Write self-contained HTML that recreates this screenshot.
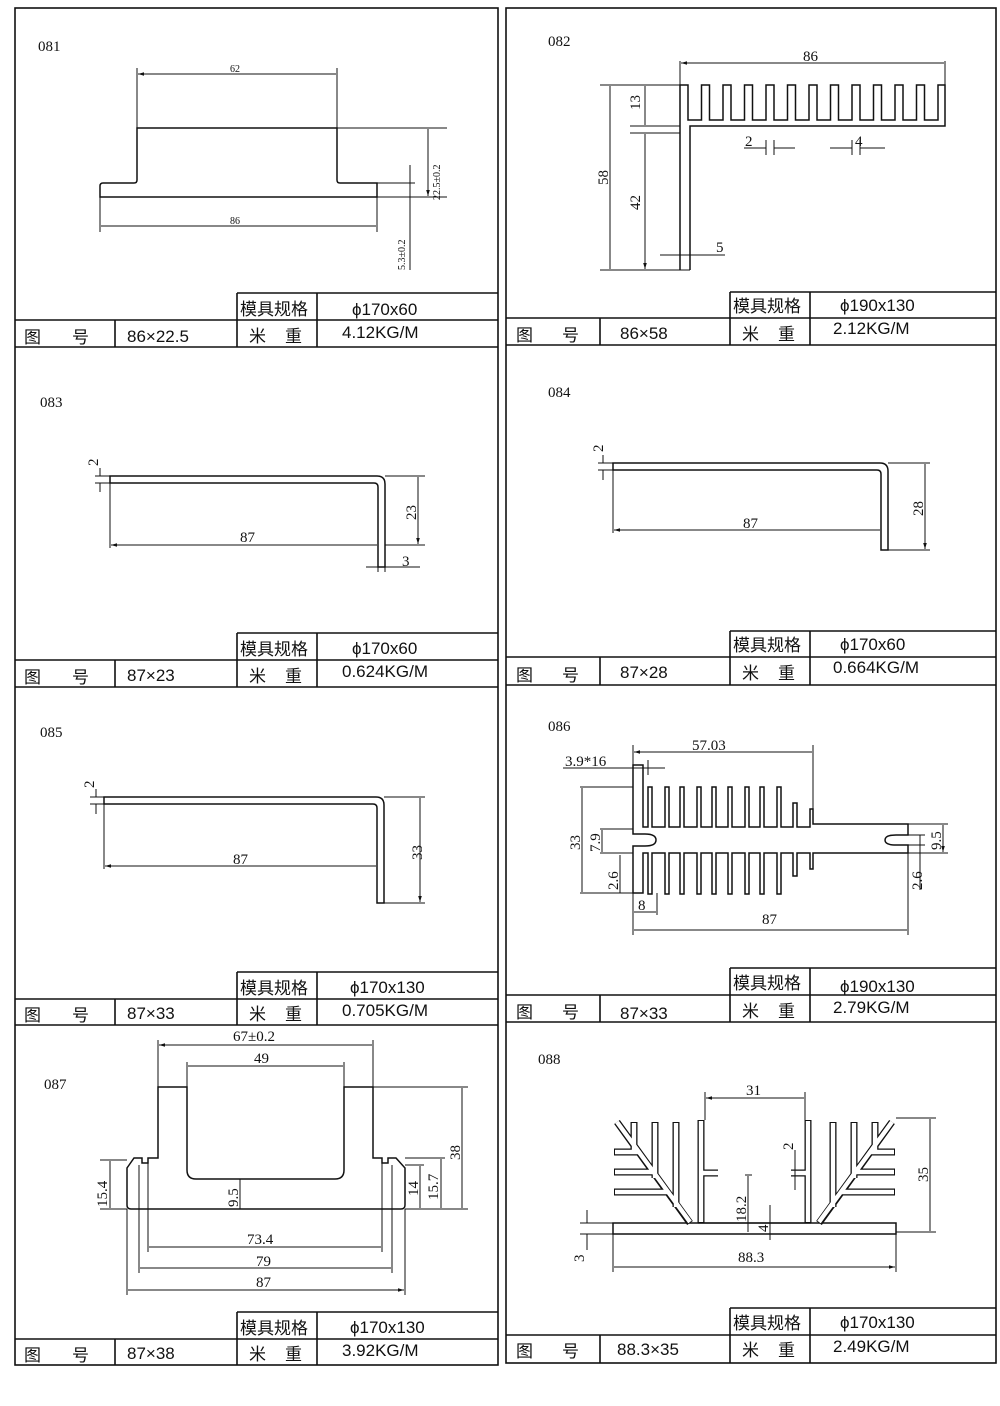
<!DOCTYPE html>
<html><head><meta charset="utf-8"><style>
html,body{margin:0;padding:0;background:#fff;}
svg{display:block;}
text{font-family:"Liberation Sans","Noto Sans CJK SC",sans-serif;fill:#111;}
.t text{font-size:17px;}
.s text{font-family:"Liberation Serif","Noto Serif CJK SC",serif;font-size:15px;}
.d text{font-family:"Liberation Serif",serif;font-size:15px;}
.d text.ds{font-family:"Liberation Serif",serif;font-size:10px;}
</style></head><body>
<svg width="1000" height="1406" viewBox="0 0 1000 1406" xmlns="http://www.w3.org/2000/svg">
<defs>
<marker id="a" viewBox="0 0 10 10" refX="10" refY="5" markerWidth="6" markerHeight="6" orient="auto-start-reverse"><path d="M0,2 L10,5 L0,8 Z" fill="#111"/></marker>
</defs>
<g stroke="#111" stroke-width="1.6" fill="none">
<rect x="15" y="8" width="483" height="1357"/>
<rect x="506" y="8" width="490" height="1355"/>
<path d="M237,293 H498 M15,320 H498 M15,347 H498 M237,293 V347 M317,293 V347 M115,320 V347"/>
<path d="M237,633 H498 M15,660 H498 M15,687 H498 M237,633 V687 M317,633 V687 M115,660 V687"/>
<path d="M237,972 H498 M15,999 H498 M15,1025 H498 M237,972 V1025 M317,972 V1025 M115,999 V1025"/>
<path d="M237,1312 H498 M15,1339 H498 M237,1312 V1365 M317,1312 V1365 M115,1339 V1365"/>
<path d="M730,292 H996 M506,318 H996 M506,345 H996 M730,292 V345 M810,292 V345 M600,318 V345"/>
<path d="M730,631 H996 M506,657 H996 M506,685 H996 M730,631 V685 M810,631 V685 M600,657 V685"/>
<path d="M730,968 H996 M506,995 H996 M506,1022 H996 M730,968 V1022 M810,968 V1022 M600,995 V1022"/>
<path d="M730,1308 H996 M506,1335 H996 M730,1308 V1363 M810,1308 V1363 M600,1335 V1363"/>
</g>

<g class="t">
<text x="240" y="315">模具规格</text><text x="352" y="315">ϕ170x60</text>
<text x="24" y="343">图</text><text x="72" y="343">号</text><text x="127" y="342">86×22.5</text><text x="249" y="342">米</text><text x="285" y="342">重</text><text x="342" y="338">4.12KG/M</text>
<text x="240" y="655">模具规格</text><text x="352" y="654">ϕ170x60</text>
<text x="24" y="683">图</text><text x="72" y="683">号</text><text x="127" y="681">87×23</text><text x="249" y="682">米</text><text x="285" y="682">重</text><text x="342" y="677">0.624KG/M</text>
<text x="240" y="994">模具规格</text><text x="350" y="993">ϕ170x130</text>
<text x="24" y="1021">图</text><text x="72" y="1021">号</text><text x="127" y="1019">87×33</text><text x="249" y="1020">米</text><text x="285" y="1020">重</text><text x="342" y="1016">0.705KG/M</text>
<text x="240" y="1334">模具规格</text><text x="350" y="1333">ϕ170x130</text>
<text x="24" y="1361">图</text><text x="72" y="1361">号</text><text x="127" y="1359">87×38</text><text x="249" y="1360">米</text><text x="285" y="1360">重</text><text x="342" y="1356">3.92KG/M</text>

<text x="733" y="312">模具规格</text><text x="840" y="311">ϕ190x130</text>
<text x="516" y="341">图</text><text x="562" y="341">号</text><text x="620" y="339">86×58</text><text x="742" y="340">米</text><text x="778" y="340">重</text><text x="833" y="334">2.12KG/M</text>
<text x="733" y="651">模具规格</text><text x="840" y="650">ϕ170x60</text>
<text x="516" y="681">图</text><text x="562" y="681">号</text><text x="620" y="678">87×28</text><text x="742" y="679">米</text><text x="778" y="679">重</text><text x="833" y="673">0.664KG/M</text>
<text x="733" y="989">模具规格</text><text x="840" y="992">ϕ190x130</text>
<text x="516" y="1018">图</text><text x="562" y="1018">号</text><text x="620" y="1019">87×33</text><text x="742" y="1017">米</text><text x="778" y="1017">重</text><text x="833" y="1013">2.79KG/M</text>
<text x="733" y="1329">模具规格</text><text x="840" y="1328">ϕ170x130</text>
<text x="516" y="1357">图</text><text x="562" y="1357">号</text><text x="617" y="1355">88.3×35</text><text x="742" y="1356">米</text><text x="778" y="1356">重</text><text x="833" y="1352">2.49KG/M</text>
</g>

<g class="s">
<text x="38" y="51">081</text><text x="548" y="46">082</text>
<text x="40" y="407">083</text><text x="548" y="397">084</text>
<text x="40" y="737">085</text><text x="548" y="731">086</text>
<text x="44" y="1089">087</text><text x="538" y="1064">088</text>
</g>

<g stroke="#111" stroke-width="1.5" fill="none">
<path d="M137,128 H337 V180 Q337,183 340,183 H377 V197 H100 V186 Q100,183 103,183 H134 Q137,183 137,180 Z"/>
<g stroke-width="1">
<path d="M137,68 V128 M337,68 V128 M337,128 H447 M377,197 H447 M100,197 V232 M377,197 V232 M377,183 H415 M410,165 V270"/>
<path d="M138,74 H336 M101,226 H376 M428,129 V196" marker-start="url(#a)" marker-end="url(#a)"/>
</g>
<path d="M680,270 V85 H688 V120 H701.5 V85 H709.5 V120 H723 V85 H731 V120 H744.5 V85 H752.5 V120 H766 V85 H774 V120 H787.5 V85 H795.5 V120 H809 V85 H817 V120 H830.5 V85 H838.5 V120 H852 V85 H860 V120 H873.5 V85 H881.5 V120 H895 V85 H903 V120 H916.5 V85 H924.5 V120 H938 V85 H945 V126 H690 V270"/>
<g stroke-width="1">
<path d="M680,61 V85 M945,61 V85 M600,85 H680 M600,270 H690 M630,126 H680 M630,133 H680 M660,255 H725 M766,140 V155 M774,140 V155 M852,140 V155 M860,140 V155"/>
<path d="M681,63 H944 M610,86 V269 M645,86 V125 M645,134 V269" marker-start="url(#a)" marker-end="url(#a)"/>
<path d="M744,148 H766 M774,148 H795 M830,148 H852 M860,148 H885"/>
</g>
<path d="M110,476 H377 Q385,476 385,484 V567 H378 V487 Q378,483 374,483 H110 Z"/>
<g stroke-width="1">
<path d="M110,483 V548 M95,476 H110 M95,483 H110 M385,476 H425 M385,545 H425 M366,567 H420 M378,550 V572 M385,550 V572"/>
<path d="M111,545 H377 M418,477 V544" marker-start="url(#a)" marker-end="url(#a)"/>
<path d="M100,468 V476 M100,483 V492"/>
</g>
<path d="M613,463 H880 Q888,463 888,471 V550 H881 V474 Q881,470 877,470 H613 Z"/>
<g stroke-width="1">
<path d="M613,470 V533 M598,463 H613 M598,470 H613 M888,463 H930 M888,550 H930 M881,530 V535"/>
<path d="M614,530 H880 M925,464 V549" marker-start="url(#a)" marker-end="url(#a)"/>
<path d="M603,455 V463 M603,470 V480"/>
</g>
<path d="M104,797 H376 Q384,797 384,805 V903 H377 V808 Q377,804 373,804 H104 Z"/>
<g stroke-width="1">
<path d="M104,804 V869 M90,797 H104 M90,804 H104 M384,797 H425 M384,903 H425"/>
<path d="M105,866 H376 M420,798 V902" marker-start="url(#a)" marker-end="url(#a)"/>
<path d="M96,789 V797 M96,804 V814"/>
</g>
<path d="M633,765 H643 V827 H648 V787 H652 V827 H665 V787 H669 V827 H680 V787 H684 V827 H697 V787 H701 V827 H712 V787 H716 V827 H728 V787 H732 V827 H745 V787 H749 V827 H760 V787 H764 V827 H777 V787 H781 V827 H793 V803 H797 V827 H810 V809 H813 V824 H908 V835 H896 Q885,835 885,840 Q885,845 896,845 H908 V853 H813 V869 H810 V853 H797 V876 H793 V853 H781 V894 H777 V853 H764 V894 H760 V853 H749 V894 H745 V853 H732 V894 H728 V853 H716 V894 H712 V853 H701 V894 H697 V853 H684 V894 H680 V853 H669 V894 H665 V853 H652 V894 H648 V853 H643 V893 H633 V846 H645 Q656,846 656,840 Q656,834 645,834 H633 Z"/>
<g stroke-width="1">
<path d="M633,745 V765 M813,745 V809 M563,768 H665 M648,760 V775 M580,787 H633 M580,893 H633 M600,829 H633 M600,853 H633 M633,893 V935 M657,893 V915 M908,853 V935 M908,824 H948 M908,853 H948 M908,835 H925 M908,845 H925"/>
<path d="M634,752 H812 M582,788 V892 M602,830 V852 M634,912 H656 M634,930 H907 M943,825 V852" marker-start="url(#a)" marker-end="url(#a)"/>
<path d="M620,855 V893 M920,835 V890"/>
</g>
<path d="M158,1087 H187 V1170 Q187,1179 196,1179 H335 Q344,1179 344,1170 V1087 H373 V1158 H382 V1163 H388 V1158 H396 L405,1168 V1205 Q405,1209 401,1209 H131 Q127,1209 127,1205 V1168 L134,1158 H142 V1163 H148 V1158 H158 Z"/>
<g stroke-width="1">
<path d="M158,1040 V1087 M373,1040 V1087 M187,1062 V1087 M344,1062 V1087 M373,1087 H468 M405,1209 H468 M405,1158 H445 M405,1165 H424 M100,1160 H127 M100,1209 H127 M148,1163 V1252 M382,1163 V1252 M139,1165 V1273 M392,1165 V1273 M127,1209 V1295 M405,1209 V1295 M240,1179 V1209"/>
<path d="M159,1045 H372 M188,1066 H343 M462,1088 V1208 M441,1159 V1208 M420,1166 V1208 M110,1161 V1208 M149,1247 H381 M140,1268 H391 M128,1290 H404" marker-start="url(#a)" marker-end="url(#a)"/>
</g>
<rect x="613" y="1223" width="283" height="11"/>
<g stroke-linecap="butt">
<g stroke="#111" stroke-width="7">
<path d="M690,1223 L617,1122 M634,1122 V1150 M655,1122 V1178 M676,1122 V1207 M614,1152 H639 M614,1172 H653 M614,1192 H668 M701,1120 V1223 M808,1120 V1223 M819,1223 L892,1122 M875,1122 V1150 M854,1122 V1178 M833,1122 V1207 M895,1152 H870 M895,1172 H856 M895,1192 H841 M703,1173 H718 M806,1173 H791"/>
</g>
<g stroke="#fff" stroke-width="4.4">
<path d="M690,1222 L617,1122 M634,1123 V1150 M655,1123 V1178 M676,1123 V1207 M615,1152 H639 M615,1172 H653 M615,1192 H668 M701,1121 V1222 M808,1121 V1222 M819,1222 L892,1122 M875,1123 V1150 M854,1123 V1178 M833,1123 V1207 M894,1152 H870 M894,1172 H856 M894,1192 H841 M703,1173 H718 M806,1173 H791"/>
</g>
</g>
<path d="M698,1223 H811" stroke="#111" stroke-width="1.2"/>
<g stroke-width="1">
<path d="M705,1092 V1120 M805,1092 V1120 M896,1118 H936 M896,1232 H936 M580,1223 H613 M580,1234 H613 M613,1234 V1272 M896,1234 V1272 M745,1175 H752 M795,1150 V1190 M770,1205 V1240"/>
<path d="M706,1098 H804 M930,1119 V1231 M748,1176 V1232 M614,1267 H895" marker-start="url(#a)" marker-end="url(#a)"/>
<path d="M587,1210 V1223 M587,1234 V1250"/>
</g>
</g>

<g class="d">
<text x="230" y="72" class="ds">62</text>
<text x="230" y="224" class="ds">86</text>
<text class="ds" transform="translate(440,200) rotate(-90)">22.5±0.2</text>
<text class="ds" transform="translate(405,270) rotate(-90)">5.3±0.2</text>

<text x="803" y="61">86</text>
<text transform="translate(640,110) rotate(-90)">13</text>
<text transform="translate(608,185) rotate(-90)">58</text>
<text transform="translate(640,210) rotate(-90)">42</text>
<text x="716" y="252">5</text>
<text x="745" y="146">2</text>
<text x="855" y="146">4</text>

<text transform="translate(98,466) rotate(-90)">2</text>
<text x="240" y="542">87</text>
<text transform="translate(416,520) rotate(-90)">23</text>
<text x="402" y="566">3</text>

<text transform="translate(603,452) rotate(-90)">2</text>
<text x="743" y="528">87</text>
<text transform="translate(923,516) rotate(-90)">28</text>

<text transform="translate(94,788) rotate(-90)">2</text>
<text x="233" y="864">87</text>
<text transform="translate(422,860) rotate(-90)">33</text>

<text x="692" y="750">57.03</text>
<text x="565" y="766">3.9*16</text>
<text transform="translate(580,850) rotate(-90)">33</text>
<text transform="translate(600,852) rotate(-90)">7.9</text>
<text transform="translate(618,890) rotate(-90)">2.6</text>
<text x="638" y="910">8</text>
<text x="762" y="924">87</text>
<text transform="translate(941,850) rotate(-90)">9.5</text>
<text transform="translate(922,890) rotate(-90)">2.6</text>

<text x="233" y="1041">67±0.2</text>
<text x="254" y="1063">49</text>
<text transform="translate(460,1160) rotate(-90)">38</text>
<text transform="translate(438,1200) rotate(-90)">15.7</text>
<text transform="translate(418,1196) rotate(-90)">14</text>
<text transform="translate(107,1207) rotate(-90)">15.4</text>
<text transform="translate(238,1207) rotate(-90)">9.5</text>
<text x="247" y="1244">73.4</text>
<text x="256" y="1266">79</text>
<text x="256" y="1287">87</text>

<text x="746" y="1095">31</text>
<text transform="translate(928,1182) rotate(-90)">35</text>
<text transform="translate(584,1262) rotate(-90)">3</text>
<text transform="translate(793,1150) rotate(-90)">2</text>
<text transform="translate(746,1222) rotate(-90)">18.2</text>
<text transform="translate(768,1232) rotate(-90)">4</text>
<text x="738" y="1262">88.3</text>
</g>
</svg>
</body></html>
